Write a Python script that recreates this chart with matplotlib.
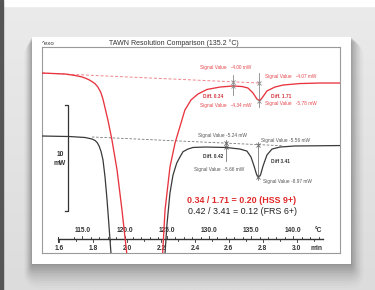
import numpy as np
import matplotlib
matplotlib.use("Agg")
import matplotlib.pyplot as plt
from matplotlib.patches import Rectangle, FancyBboxPatch

plt.rcParams['font.family'] = ['Liberation Sans', 'DejaVu Sans']

# ---------------- data (minutes, mW) ----------------
red_time = [1.500, 1.634, 1.693, 1.730, 1.752, 1.775, 1.793, 1.812, 1.828, 1.845,
            1.858, 1.887, 1.911, 1.941, 1.970, 1.998, 2.017, 2.030, 2.200, 2.210,
            2.224, 2.253, 2.283, 2.341, 2.377, 2.418, 2.471, 2.548, 2.625, 2.678,
            2.713, 2.743, 2.766, 2.781, 2.796, 2.825, 2.872, 2.920, 3.020, 3.138, 3.256]
red_mw = [-3.13, -3.22, -3.36, -3.48, -3.60, -3.76, -3.93, -4.15, -4.45, -4.95,
          -5.60, -7.56, -9.45, -12.28, -16.05, -20.11, -23.6, -30.0, -30.0, -20.11,
          -16.05, -12.00, -9.73, -6.62, -5.67, -5.11, -4.68, -4.45, -4.35, -4.40,
          -4.54, -5.01, -5.58, -5.74, -5.49, -4.82, -4.45, -4.26, -4.12, -4.07, -4.07]

black_time = [1.500, 1.663, 1.752, 1.793, 1.812, 1.825, 1.835, 1.846, 1.858, 1.870,
              1.882, 1.893, 1.905, 1.915, 2.210, 2.224, 2.235, 2.253, 2.271, 2.293,
              2.312, 2.330, 2.359, 2.389, 2.460, 2.583, 2.666, 2.707, 2.731, 2.749,
              2.763, 2.774, 2.787, 2.802, 2.825, 2.855, 2.902, 2.990, 3.138, 3.256]
black_mw = [-4.67, -4.72, -4.81, -4.95, -5.10, -5.32, -5.62, -6.10, -6.93, -8.54,
            -10.71, -13.07, -15.71, -20.0, -20.0, -15.71, -13.07, -10.05, -8.35, -7.22,
            -6.65, -6.15, -5.90, -5.75, -5.71, -5.75, -5.90, -6.09, -6.65, -7.50,
            -8.25, -8.58, -8.35, -7.50, -6.46, -5.90, -5.71, -5.61, -5.59, -5.57]
black_offset = -4.4   # vertical display offset of the black curve (mW)

# baselines (start/end time, start/end mW)
red_base_t = [1.500, 2.780]
red_base_mw = [-3.13, -4.07]
black_base_t = [1.793, 2.920]
black_base_mw = [-4.76, -5.59]

# evaluation markers: time, line top, line bottom, baseline value, curve value
red_marks_t = [2.627, 2.779]
red_marks_top = [-3.32, -3.10]
red_marks_bot = [-5.20, -6.31]
red_marks_base = [-4.00, -4.07]
red_marks_curve = [-4.34, -5.76]
black_marks_t = [2.583, 2.774]
black_marks_top = [-5.05, -5.21]
black_marks_bot = [-7.00, -8.82]
black_marks_base = [-5.30, -5.48]
black_marks_curve = [-5.75, -8.58]

# temperature / time axis
temp_ticks = [115.0, 120.0, 125.0, 130.0, 135.0, 140.0]
min_ticks = [1.6, 1.8, 2.0, 2.2, 2.4, 2.6, 2.8, 3.0]
t_at_start = 112.27     # degC at 1.6 min
heat_rate = 20.08       # degC per min

def temp_to_min(T):
    return 1.6 + (np.asarray(T) - t_at_start) / heat_rate

RED = '#e8343f'
BLK = '#3a3a3a'
RTXT = '#e5484f'
BTXT = '#555555'

W, H = 375, 290
fig = plt.figure(figsize=(W / 100, H / 100), dpi=100)

# ---------------- background ----------------
bg = fig.add_axes([0, 0, 1, 1])
bg.set_xlim(0, W)
bg.set_ylim(H, 0)
bg.axis('off')
grad = np.linspace(0, 1, 100)[:, None]
cmap = matplotlib.colors.LinearSegmentedColormap.from_list('g', ['#ebebeb', '#dcdcdc'])
bg.imshow(grad, extent=[0, W, H, 0], aspect='auto', cmap=cmap, zorder=0)
bg.add_patch(Rectangle((0, 0), W, 5.5, color='white', zorder=1))
bg.add_patch(Rectangle((0, 0), 2.7, H, color='#555555', zorder=3))
# card shadow
for i, a in enumerate(np.linspace(0.06, 0.01, 10)):
    d = 1.0 + i * 1.7
    bg.add_patch(FancyBboxPatch((32 - d * 0.5, 37 + d * 0.3), 319 + d * 1.3, 227 + d * 1.2,
                                boxstyle='round,pad=0,rounding_size=%f' % (d),
                                facecolor='black', edgecolor='none', alpha=a, zorder=1))
bg.add_patch(Rectangle((32, 37), 319, 227, facecolor='white', edgecolor='none', zorder=2))

# ---------------- main axes ----------------
L, R, T, B = 42.3, 340.0, 47.3, 252.5
ax = fig.add_axes([L / W, 1 - B / H, (R - L) / W, (B - T) / H])
ax.set_facecolor('none')
ax.set_xlim(1.5, 3.256)
ax.set_ylim(-20.06, -0.70)
ax.set_xticks([])
ax.set_yticks([])
for s in ax.spines.values():
    s.set_color('#9a9a9a')
    s.set_linewidth(0.8)

# baselines
ax.plot(red_base_t, red_base_mw, color=RED, lw=0.7, ls=(0, (3, 2)), alpha=0.6, zorder=3)
ax.plot(black_base_t, np.array(black_base_mw) + black_offset, color='#777777', lw=0.6,
        ls=(0, (3, 2)), zorder=3)

# curves
ax.plot(red_time, red_mw, color=RED, lw=0.95, zorder=5)
ax.plot(black_time, np.array(black_mw) + black_offset, color=BLK, lw=0.9, zorder=5)

# evaluation markers
for t, a, b, p, c in zip(red_marks_t, red_marks_top, red_marks_bot, red_marks_base, red_marks_curve):
    ax.plot([t, t], [a, b], color='#888888', lw=0.6, zorder=4)
    ax.plot([t, t], [p, c], ls='none', marker='x', ms=2.5, mew=0.6, color='#888888', zorder=6)
for t, a, b, p, c in zip(black_marks_t, black_marks_top, black_marks_bot, black_marks_base, black_marks_curve):
    ax.plot([t, t], [a + black_offset, b + black_offset], color='#777777', lw=0.6, zorder=4)
    ax.plot([t, t], [p + black_offset, c + black_offset], ls='none', marker='x', ms=2.5,
            mew=0.6, color='#666666', zorder=6)

fs = 3.4
ann = [
    (2.583, -2.59, 'Signal Value   -4.00 mW', RTXT, 'normal'),
    (2.967, -3.44, 'Signal Value   -4.07 mW', RTXT, 'normal'),
    (2.507, -5.30, 'Diff. 0.34', '#d0343c', 'bold'),
    (2.583, -6.17, 'Signal Value   -4.34 mW', RTXT, 'normal'),
    (2.911, -5.30, 'Diff. 1.71', '#d0343c', 'bold'),
    (2.967, -5.96, 'Signal Value   -5.78 mW', RTXT, 'normal'),
    (2.560, -8.98, 'Signal Value -5.24 mW', BTXT, 'normal'),
    (2.937, -9.48, 'Signal Value -5.56 mW', BTXT, 'normal'),
    (2.507, -10.98, 'Diff. 0.42', '#333333', 'bold'),
    (2.545, -12.21, 'Signal Value  -5.66 mW', BTXT, 'normal'),
    (2.905, -11.43, 'Diff 3.41', '#333333', 'bold'),
    (2.946, -13.32, 'Signal Value -8.97 mW', BTXT, 'normal'),
]
for x, y, s, c, w in ann:
    ax.text(x, y, s, fontsize=fs, color=c, fontweight=w, ha='center', va='center', zorder=7)

ax.text(2.678, -15.11, '0.34 / 1.71 = 0.20 (HSS 9+)', fontsize=6.4, color='#e02a2a',
        fontweight='bold', ha='center', va='center', zorder=7)
ax.text(2.678, -16.15, '0.42 / 3.41 = 0.12 (FRS 6+)', fontsize=6.4, color='#222222',
        ha='center', va='center', zorder=7)

# scale bar 10 mW
sb_x = 1.651
sb_top, sb_bot = -6.15, -16.15
ax.plot([sb_x - 0.02, sb_x, sb_x, sb_x - 0.02], [sb_top, sb_top, sb_bot, sb_bot],
        color='#333333', lw=0.9, zorder=4)
ax.text(1.604, -10.85, '10', fontsize=4.8, fontweight='bold', color='#333333',
        ha='center', va='center')
ax.text(1.604, -11.70, 'mW', fontsize=4.8, fontweight='bold', color='#333333',
        ha='center', va='center')

# ruler
tr = ax.get_xaxis_transform()
px = 1.0 / (B - T)
ry = (B - 239) / (B - T)
ax.plot([1.592, 3.156], [ry, ry], transform=tr, color='#333333', lw=1.0, zorder=3)
ax.plot([1.592, 1.592], [ry - 2.5 * px, ry + 2.5 * px], transform=tr, color='#333333', lw=0.7)
for Tm in np.arange(114, 145, 1.0):
    xm = float(temp_to_min(Tm))
    if xm < 1.592 or xm > 3.156:
        continue
    major = abs(Tm % 5) < 1e-6
    h = 2.8 if major else 1.6
    ax.plot([xm, xm], [ry, ry + h * px], transform=tr, color='#333333', lw=0.6, zorder=3)
for m in np.arange(1.6, 3.16, 0.1):
    major = abs((m * 10) % 2) < 1e-6 or abs((m * 10) % 2 - 2) < 1e-6
    h = 2.8 if major else 1.6
    ax.plot([m, m], [ry, ry - h * px], transform=tr, color='#333333', lw=0.6, zorder=3)
for Tv in temp_ticks:
    ax.text(float(temp_to_min(Tv)), (B - 231) / (B - T), f'{Tv:.1f}', transform=tr,
            fontsize=4.8, fontweight='bold', color='#333333', ha='center', va='center')
for m in min_ticks:
    ax.text(m, (B - 248) / (B - T), f'{m:.1f}', transform=tr,
            fontsize=4.8, fontweight='bold', color='#333333', ha='center', va='center')
ax.text(1.6 + (322 - 59.3) / 169.5, (B - 231) / (B - T), '°C', transform=tr, fontsize=4.8,
        fontweight='bold', color='#333333', ha='right', va='center')
ax.text(1.6 + (322 - 59.3) / 169.5, (B - 248) / (B - T), 'min', transform=tr, fontsize=4.8,
        fontweight='bold', color='#333333', ha='right', va='center')

# titles
fig.text(173.5 / W, 1 - 43.3 / H, 'TAWN Resolution Comparison (135.2 °C)', fontsize=5.0,
         color='#333333', ha='center', va='center')
fig.text(42 / W, 1 - 43.3 / H, '^exo', fontsize=4.4, color='#333333', ha='left', va='center')

fig.savefig('out.png', dpi=100)
